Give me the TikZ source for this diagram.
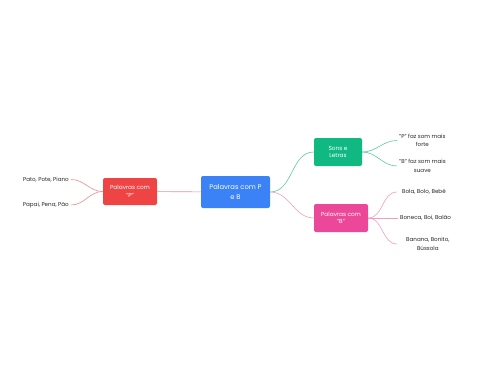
\documentclass[tikz,border=0pt]{standalone}
\usepackage{fontspec}
\setmainfont{Poppins}
\usetikzlibrary{positioning}
\definecolor{centerblue}{HTML}{3B82F6}
\definecolor{topicred}{HTML}{EF4444}
\definecolor{topicgreen}{HTML}{10B981}
\definecolor{topicpink}{HTML}{EC4899}
\definecolor{linkred}{HTML}{F08C8C}
\definecolor{linkgreen}{HTML}{5CCB9E}
\definecolor{linkpink}{HTML}{F09CC4}

\begin{document}
\begin{tikzpicture}[x=1pt, y=-1pt,
    topic/.style={rectangle, rounded corners=2pt, text=white, align=center,
                  inner sep=1pt, font=\fontsize{5.8}{7.5}\selectfont},
    leaf/.style={align=center, inner sep=2pt, text=black!85,
                 font=\fontsize{5.6}{8.5}\selectfont},
    link/.style={line width=0.6pt},
  ]
  \useasboundingbox (0,0) rectangle (480,384);

  % topics
  \node[topic, fill=centerblue, minimum width=69pt, minimum height=32pt,
        font=\fontsize{6.8}{9.5}\selectfont] (pb) at (235.5,192) {Palavras com P\\e B};
  \node[topic, fill=topicred, minimum width=54pt, minimum height=27pt] (pp) at (130,191.5) {Palavras com\\"P"};
  \node[topic, fill=topicgreen, minimum width=48pt, minimum height=28pt] (sons) at (338,152) {Sons e\\Letras};
  \node[topic, fill=topicpink, minimum width=54pt, minimum height=28pt] (pbb) at (341,218) {Palavras com\\"B"};

  % leaves
  \node[leaf, anchor=east] (pato)  at (71,179.5) {Pato, Pote, Piano};
  \node[leaf, anchor=east] (papai) at (71,205)   {Papai, Pena, Pão};
  \node[leaf, anchor=west] (forte) at (397,140.5) {"P" faz som mais\\forte};
  \node[leaf, anchor=west] (suave) at (397,166)   {"B" faz som mais\\suave};
  \node[leaf, anchor=west] (bola)  at (400,192)   {Bola, Bolo, Bebê};
  \node[leaf, anchor=west] (boneca) at (398,218)  {Boneca, Boi, Balão};
  \node[leaf, anchor=west] (banana) at (404,244)  {Banana, Bonito,\\Bússola};

  % connectors
  \draw[link, linkred] (pb) -- (pp);
  \draw[link, linkgreen] (pb.east) to[out=0, in=180] (sons.west);
  \draw[link, linkpink] (pb.east) to[out=0, in=180] (pbb.west);

  \draw[link, linkred] (pp.west) to[out=180, in=0] (pato.east);
  \draw[link, linkred] (pp.west) to[out=180, in=0] (papai.east);

  \draw[link, linkgreen] (sons.east) to[out=0, in=180] (forte.west);
  \draw[link, linkgreen] (sons.east) to[out=0, in=180] (suave.west);

  \draw[link, linkpink] (pbb.east) to[out=0, in=180] ([xshift=-3pt]bola.west);
  \draw[link, linkpink] (pbb.east) -- (boneca.west);
  \draw[link, linkpink] (pbb.east) to[out=0, in=180] ([xshift=-7pt]banana.west);
\end{tikzpicture}
\end{document}
